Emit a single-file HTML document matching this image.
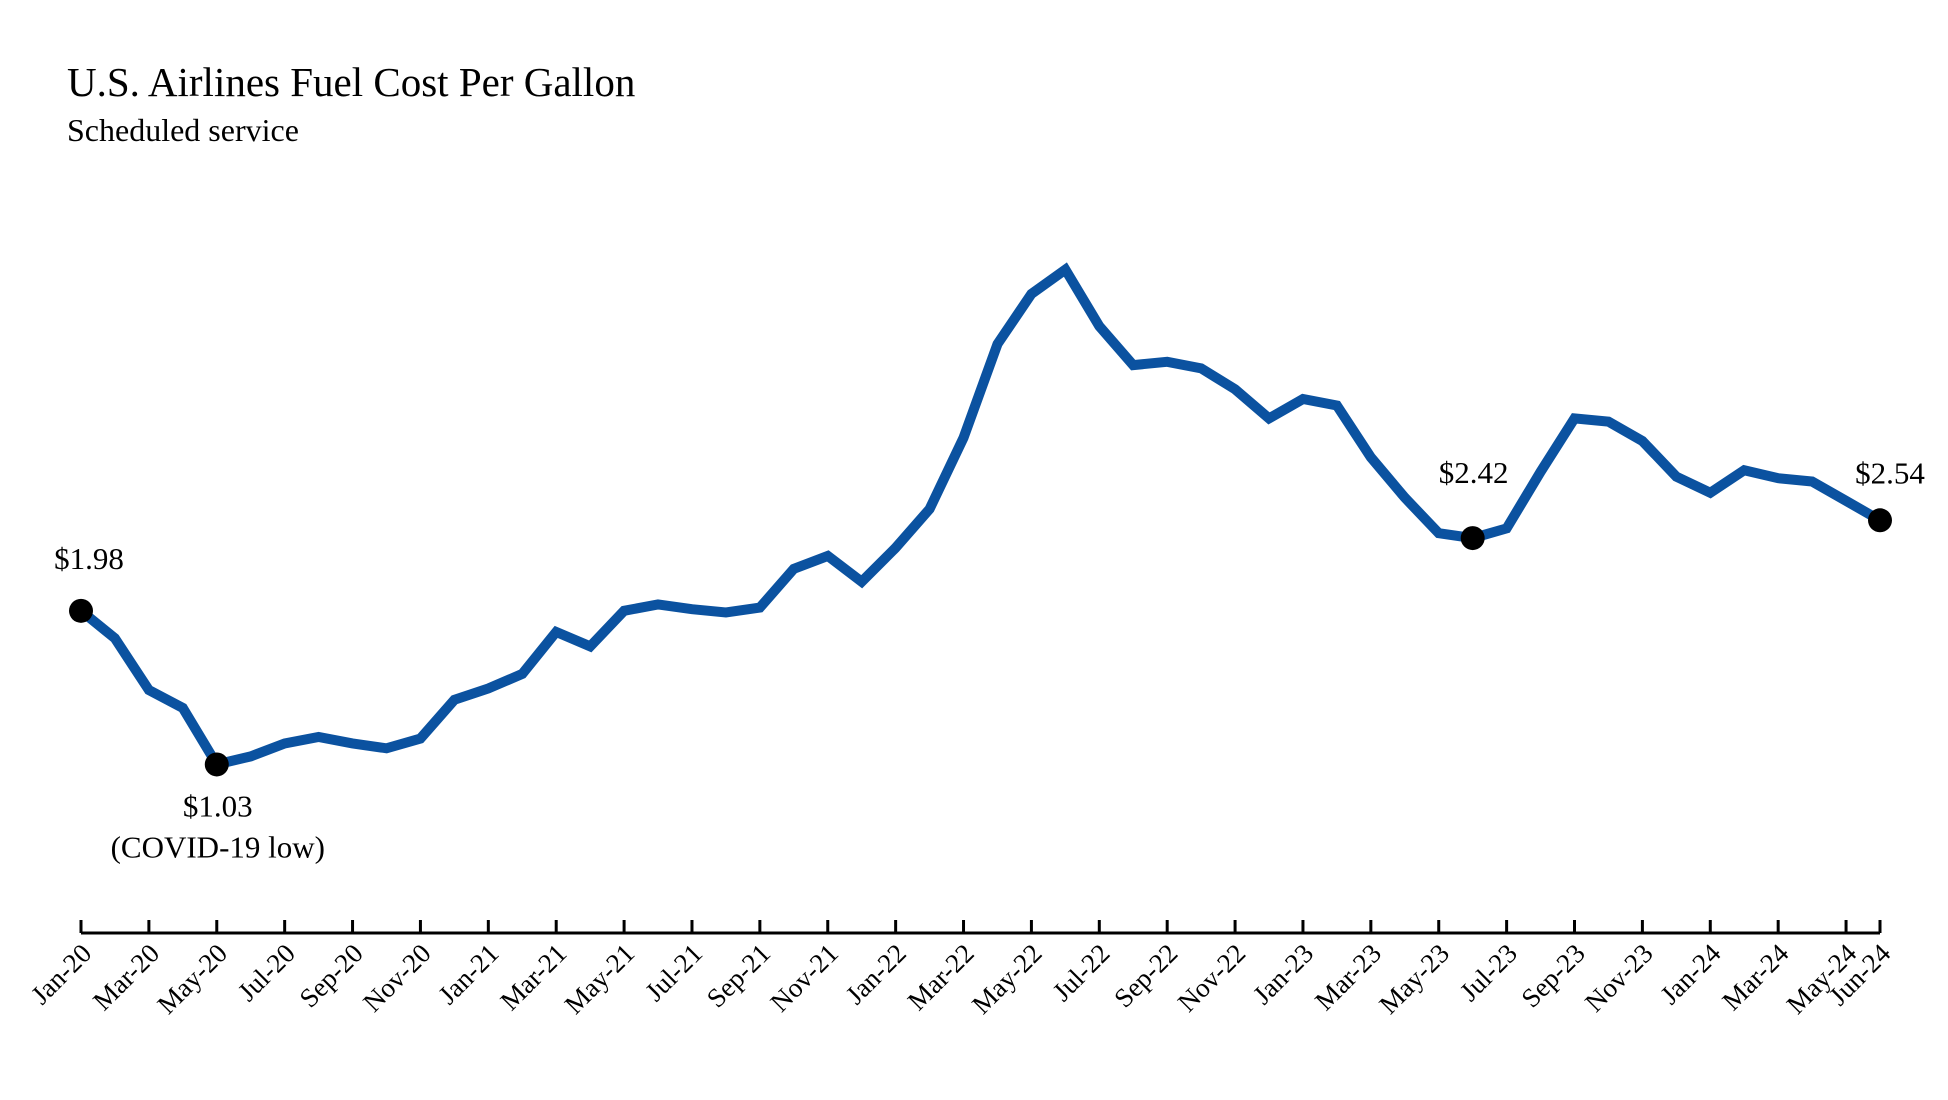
<!DOCTYPE html>
<html><head><meta charset="utf-8"><style>
html,body{margin:0;padding:0;background:#fff;}
svg{display:block;font-family:"Liberation Serif",serif;}
</style></head><body>
<svg id="chart" width="1948" height="1100" viewBox="0 0 1948 1100">
<text x="67" y="96" font-size="41" fill="#000">U.S. Airlines Fuel Cost Per Gallon</text>
<text x="67" y="141" font-size="32" fill="#000">Scheduled service</text>
<g id="axis"></g>
<g id="series"></g>
<g id="notes"></g>
</svg>
<script>
const months = ["Jan","Feb","Mar","Apr","May","Jun","Jul","Aug","Sep","Oct","Nov","Dec"];
const values = [1.98,1.81,1.49,1.38,1.03,1.08,1.16,1.20,1.16,1.13,1.19,1.43,
1.50,1.59,1.85,1.76,1.98,2.02,1.99,1.97,2.00,2.24,2.32,2.16,
2.37,2.61,3.05,3.63,3.94,4.09,3.74,3.50,3.52,3.48,3.35,3.17,
3.29,3.25,2.93,2.68,2.46,2.43,2.49,2.84,3.17,3.15,3.03,2.81,
2.71,2.85,2.80,2.78,2.66,2.54];
const categories = values.map((v,i)=>months[i%12]+"-"+(20+Math.floor(i/12)));
const tickIdx = [0,2,4,6,8,10,12,14,16,18,20,22,24,26,28,30,32,34,36,38,40,42,44,46,48,50,52,53];
const annotations = [
  {i:0, lines:["$1.98"], dy:-42},
  {i:4, lines:["$1.03","(COVID-19 low)"], dy:52},
  {i:41, lines:["$2.42"], dy:-55},
  {i:53, lines:["$2.54"], dy:-37}
];
const NS="http://www.w3.org/2000/svg";
const x0=81, x1=1880, axisY=933, zeroY=931, k=161.7;
const xs=i=>x0+(x1-x0)*i/(values.length-1);
const ys=v=>zeroY-v*k;
function mk(tag,attrs,parent){const e=document.createElementNS(NS,tag);for(const a in attrs)e.setAttribute(a,attrs[a]);parent.appendChild(e);return e;}
const axis=document.getElementById('axis');
const al=mk('line',{x1:x0,y1:axisY,x2:x1,y2:axisY,stroke:'#000','stroke-width':3},axis);


tickIdx.forEach(i=>{
  const x=xs(i);
  const t=mk('line',{x1:x,y1:axisY,x2:x,y2:axisY-13,stroke:'#000','stroke-width':3},axis);
  
  
  const lb=mk('text',{transform:`translate(${x+12},${955}) rotate(-45)`,'text-anchor':'end','font-size':27,fill:'#000'},axis);
  lb.textContent=categories[i];
  
  
});
const series=document.getElementById('series');
const pts=values.map((v,i)=>xs(i).toFixed(1)+","+ys(v).toFixed(1)).join(" ");
const pl=mk('polyline',{points:pts,fill:'none',stroke:'#0b52a0','stroke-width':10,'stroke-linejoin':'miter'},series);


const notes=document.getElementById('notes');
annotations.forEach(a=>{
  const cx=xs(a.i), cy=ys(values[a.i]);
  const c=mk('circle',{cx:cx,cy:cy,r:12,fill:'#000'},notes);
  
  
  a.lines.forEach((s,j)=>{
    const t=mk('text',{x:cx-(a.i===53?-10:(a.i===0?-8:(a.i===41?-1:-1))),y:cy+a.dy+j*41,'text-anchor':'middle','font-size':31,fill:'#000'},notes);
    t.textContent=s;
    
    
  });
});
</script>
</body></html>
